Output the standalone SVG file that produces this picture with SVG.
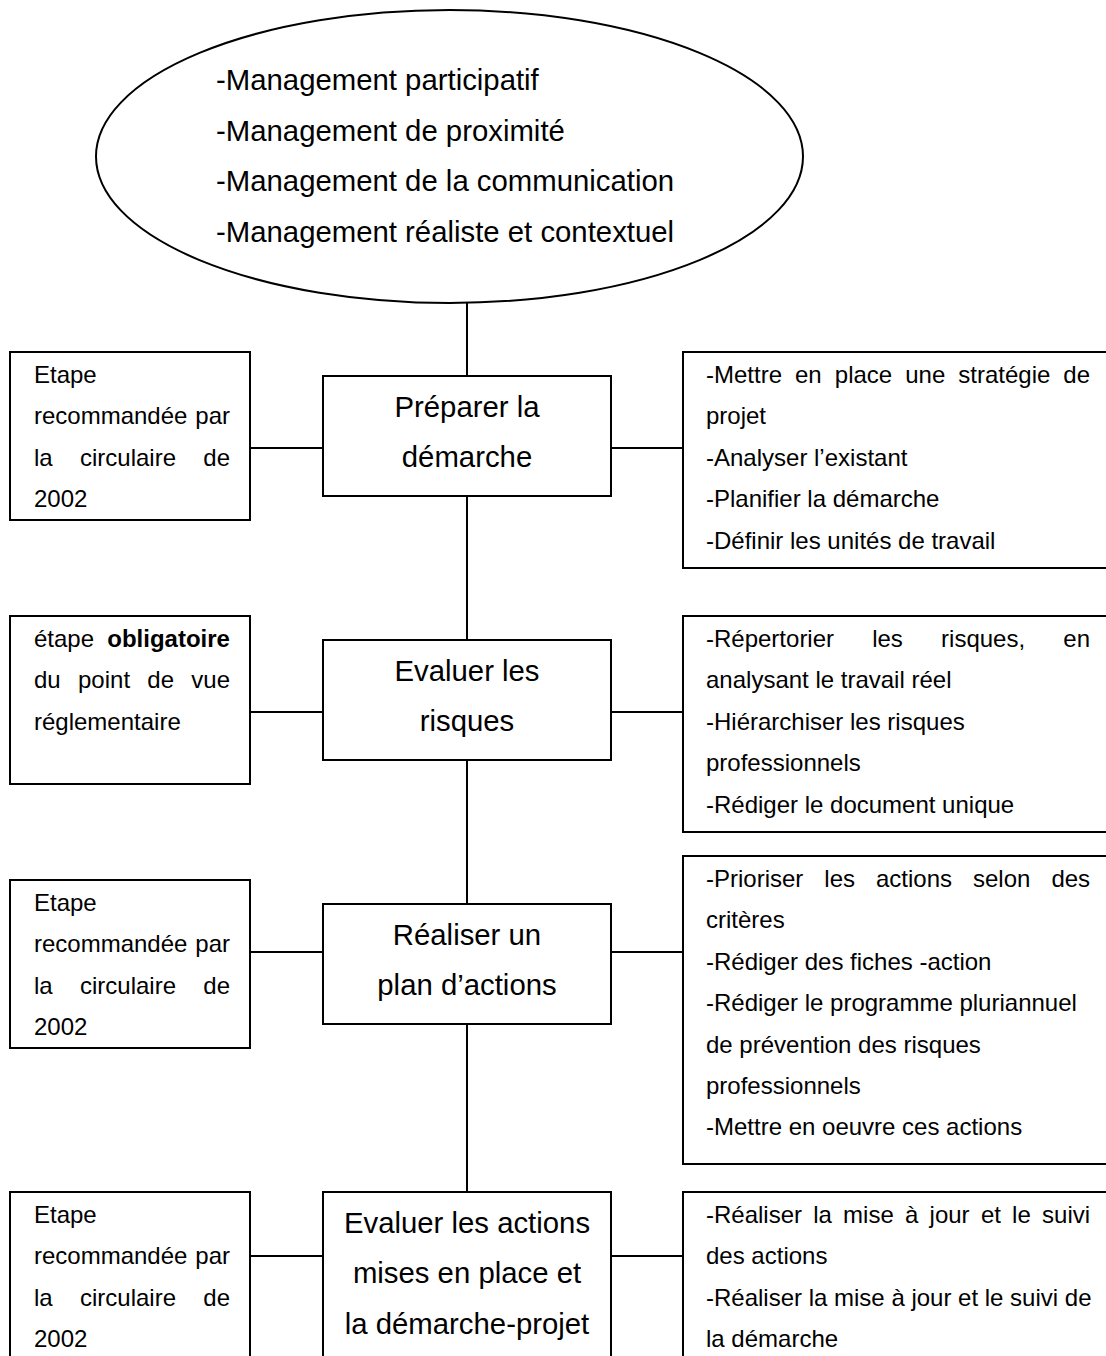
<svg xmlns="http://www.w3.org/2000/svg" width="1106" height="1356" viewBox="0 0 1106 1356">
<style>
  .box { fill: #ffffff; stroke: #000000; stroke-width: 2; }
  .conn { stroke: #000000; stroke-width: 2; fill: none; }
  text { font-family: "Liberation Sans", Arial, sans-serif; fill: #000000; }
  .big { font-size: 29.33px; }
  .mid { font-size: 29.33px; text-anchor: middle; }
  .sm { font-size: 24px; }
  .b { font-weight: bold; }
</style>
<rect x="0" y="0" width="1106" height="1356" fill="#ffffff"/>

<g id="connectors">
  <line class="conn" x1="467" y1="303" x2="467" y2="376"/>
  <line class="conn" x1="467" y1="496" x2="467" y2="640"/>
  <line class="conn" x1="467" y1="760" x2="467" y2="904"/>
  <line class="conn" x1="467" y1="1024" x2="467" y2="1192"/>
  <line class="conn" x1="250" y1="448" x2="323" y2="448"/>
  <line class="conn" x1="611" y1="448" x2="683" y2="448"/>
  <line class="conn" x1="250" y1="712" x2="323" y2="712"/>
  <line class="conn" x1="611" y1="712" x2="683" y2="712"/>
  <line class="conn" x1="250" y1="952" x2="323" y2="952"/>
  <line class="conn" x1="611" y1="952" x2="683" y2="952"/>
  <line class="conn" x1="250" y1="1256" x2="323" y2="1256"/>
  <line class="conn" x1="611" y1="1256" x2="683" y2="1256"/>
</g>

<g id="management">
  <ellipse class="box" cx="449.5" cy="156.5" rx="353.5" ry="146.5"/>
  <text class="big" x="216" y="90">-Management participatif</text>
  <text class="big" x="216" y="140.5">-Management de proximité</text>
  <text class="big" x="216" y="191">-Management de la communication</text>
  <text class="big" x="216" y="241.5">-Management réaliste et contextuel</text>
</g>

<g id="step1">
  <rect class="box" x="323" y="376" width="288" height="120"/>
  <text class="mid" x="467" y="416.5">Préparer la</text>
  <text class="mid" x="467" y="467">démarche</text>
</g>
<g id="note1">
  <rect class="box" x="10" y="352" width="240" height="168"/>
  <text class="sm" x="34" y="383">Etape</text>
  <text class="sm" y="424.4"><tspan x="34">recommandée</tspan><tspan x="195.3">par</tspan></text>
  <text class="sm" y="465.8"><tspan x="34">la</tspan><tspan x="80">circulaire</tspan><tspan x="203.3">de</tspan></text>
  <text class="sm" x="34" y="507.2">2002</text>
</g>
<g id="tasks1">
  <rect class="box" x="683" y="352" width="440" height="216"/>
  <text class="sm" y="383"><tspan x="706">-Mettre</tspan><tspan x="795">en</tspan><tspan x="834.8">place</tspan><tspan x="905.2">une</tspan><tspan x="958.3">stratégie</tspan><tspan x="1063.3">de</tspan></text>
  <text class="sm" x="706" y="424.4">projet</text>
  <text class="sm" x="706" y="465.8">-Analyser l’existant</text>
  <text class="sm" x="706" y="507.2">-Planifier la démarche</text>
  <text class="sm" x="706" y="548.6">-Définir les unités de travail</text>
</g>

<g id="step2">
  <rect class="box" x="323" y="640" width="288" height="120"/>
  <text class="mid" x="467" y="680.5">Evaluer les</text>
  <text class="mid" x="467" y="731">risques</text>
</g>
<g id="note2">
  <rect class="box" x="10" y="616" width="240" height="168"/>
  <text class="sm" y="647"><tspan x="34">étape</tspan><tspan class="b" x="107.3">obligatoire</tspan></text>
  <text class="sm" y="688.4"><tspan x="34">du</tspan><tspan x="78">point</tspan><tspan x="147.3">de</tspan><tspan x="191.3">vue</tspan></text>
  <text class="sm" x="34" y="729.8">réglementaire</text>
</g>
<g id="tasks2">
  <rect class="box" x="683" y="616" width="440" height="216"/>
  <text class="sm" y="647"><tspan x="706">-Répertorier</tspan><tspan x="872.2">les</tspan><tspan x="941.1">risques,</tspan><tspan x="1063.3">en</tspan></text>
  <text class="sm" x="706" y="688.4">analysant le travail réel</text>
  <text class="sm" x="706" y="729.8">-Hiérarchiser les risques</text>
  <text class="sm" x="706" y="771.2">professionnels</text>
  <text class="sm" x="706" y="812.6">-Rédiger le document unique</text>
</g>

<g id="step3">
  <rect class="box" x="323" y="904" width="288" height="120"/>
  <text class="mid" x="467" y="944.5">Réaliser un</text>
  <text class="mid" x="467" y="995">plan d’actions</text>
</g>
<g id="note3">
  <rect class="box" x="10" y="880" width="240" height="168"/>
  <text class="sm" x="34" y="911">Etape</text>
  <text class="sm" y="952.4"><tspan x="34">recommandée</tspan><tspan x="195.3">par</tspan></text>
  <text class="sm" y="993.8"><tspan x="34">la</tspan><tspan x="80">circulaire</tspan><tspan x="203.3">de</tspan></text>
  <text class="sm" x="34" y="1035.2">2002</text>
</g>
<g id="tasks3">
  <rect class="box" x="683" y="856" width="440" height="308"/>
  <text class="sm" y="887"><tspan x="706">-Prioriser</tspan><tspan x="824.3">les</tspan><tspan x="876">actions</tspan><tspan x="973">selon</tspan><tspan x="1051.4">des</tspan></text>
  <text class="sm" x="706" y="928.4">critères</text>
  <text class="sm" x="706" y="969.8">-Rédiger des fiches -action</text>
  <text class="sm" x="706" y="1011.2">-Rédiger le programme pluriannuel</text>
  <text class="sm" x="706" y="1052.6">de prévention des risques</text>
  <text class="sm" x="706" y="1094">professionnels</text>
  <text class="sm" x="706" y="1135.4">-Mettre en oeuvre ces actions</text>
</g>

<g id="step4">
  <rect class="box" x="323" y="1192" width="288" height="200"/>
  <text class="mid" x="467" y="1232.5">Evaluer les actions</text>
  <text class="mid" x="467" y="1283">mises en place et</text>
  <text class="mid" x="467" y="1333.5">la démarche-projet</text>
</g>
<g id="note4">
  <rect class="box" x="10" y="1192" width="240" height="200"/>
  <text class="sm" x="34" y="1223">Etape</text>
  <text class="sm" y="1264.4"><tspan x="34">recommandée</tspan><tspan x="195.3">par</tspan></text>
  <text class="sm" y="1305.8"><tspan x="34">la</tspan><tspan x="80">circulaire</tspan><tspan x="203.3">de</tspan></text>
  <text class="sm" x="34" y="1347.2">2002</text>
</g>
<g id="tasks4">
  <rect class="box" x="683" y="1192" width="440" height="200"/>
  <text class="sm" y="1223"><tspan x="706">-Réaliser</tspan><tspan x="813.2">la</tspan><tspan x="843.1">mise</tspan><tspan x="905.1">à</tspan><tspan x="929.6">jour</tspan><tspan x="980.9">et</tspan><tspan x="1012.1">le</tspan><tspan x="1042.1">suivi</tspan></text>
  <text class="sm" x="706" y="1264.4">des actions</text>
  <text class="sm" x="706" y="1305.8">-Réaliser la mise à jour et le suivi de</text>
  <text class="sm" x="706" y="1347.2">la démarche</text>
</g>
</svg>
